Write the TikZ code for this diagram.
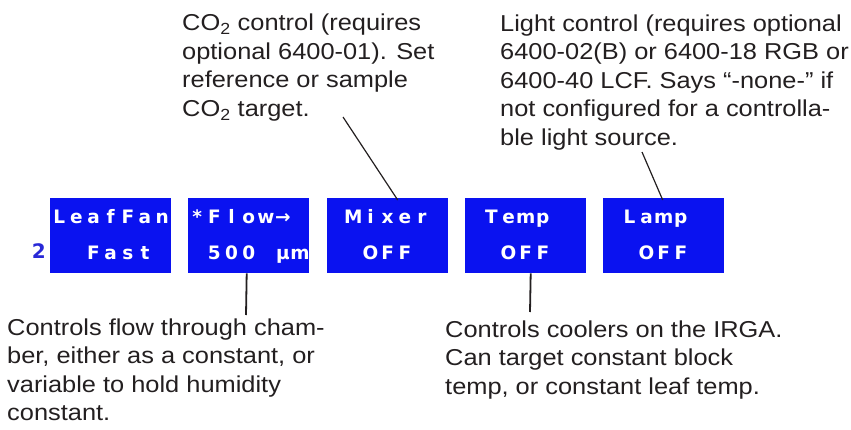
\documentclass[tikz,border=0pt]{standalone}
\usepackage{fontspec}
\setmainfont{Liberation Sans}[FakeStretch=1.104]
\newfontfamily\lcdfont{DejaVu Sans}
\definecolor{lcdblue}{RGB}{10,18,240}
\definecolor{labelblue}{RGB}{40,40,215}
\definecolor{inkgray}{RGB}{35,31,32}
\newcommand\lcdcell[1]{\makebox[17.143pt][c]{#1}}
\makeatletter
\def\lcdrow#1{\lcd@loop#1\relax}
\def\lcd@loop#1{\ifx#1\relax\else\lcdcell{#1}\expandafter\lcd@loop\fi}
\makeatother
\tikzset{
  lcdbox/.style={fill=lcdblue, text=white, anchor=north west, inner sep=0pt,
    minimum width=121pt, text height=61pt, text depth=14pt, align=left,
    font=\lcdfont\bfseries\fontsize{18.5}{36}\selectfont},
  rowlabel/.style={text=labelblue, inner sep=0pt, font=\lcdfont\bfseries\fontsize{20}{22}\selectfont},
  note/.style={anchor=base west, inner sep=0pt, align=left, text=inkgray,
    font=\fontsize{23}{28.5}\selectfont},
  leader/.style={draw=inkgray, line width=1.2pt},
  stem/.style={draw=inkgray, line width=1.8pt},
}
\begin{document}
\begin{tikzpicture}[x=1pt,y=-1pt]
\useasboundingbox (0,0) rectangle (851,430);
\node[lcdbox] (fan)   at (50,198)  {\lcdrow{LeafFan}\\\lcdrow{~~Fast~}};
\node[lcdbox] (flow)  at (188,198) {\lcdrow{*Flow→~}\\\lcdrow{~500~µm}};
\node[lcdbox] (mixer) at (327,198) {\lcdrow{~Mixer~}\\\lcdrow{~~OFF~~}};
\node[lcdbox] (temp)  at (465,198) {\lcdrow{~Temp~~}\\\lcdrow{~~OFF~~}};
\node[lcdbox] (lamp)  at (603,198) {\lcdrow{~Lamp~~}\\\lcdrow{~~OFF~~}};
\node[rowlabel, anchor=base east] (row) at (46,259) {2};

% base anchor = baseline of the last line
\node[note] (co2note) at (182,116.5) {CO\textsubscript{2} control (requires\\optional 6400-01). Set\\reference or sample\\CO\textsubscript{2} target.};
\node[note] (lightnote) at (500,145.5) {Light control (requires optional\\6400-02(B) or 6400-18 RGB or\\6400-40 LCF. Says “-none-” if\\not configured for a controlla-\\ble light source.};
\node[note] (flownote) at (7,420.5) {Controls flow through cham-\\ber, either as a constant, or\\variable to hold humidity\\constant.};
\node[note] (tempnote) at (445,394) {Controls coolers on the IRGA.\\Can target constant block\\temp, or constant leaf temp.};

\coordinate (co2tip) at (343,117);
\coordinate (lamptip) at (642,152);
\coordinate (flowtip) at (246,315);
\coordinate (temptip) at (530,312);
\draw[leader] ([xshift=10pt,yshift=-2pt]mixer.north) -- (co2tip);
\draw[leader] ([xshift=-1pt,yshift=-2pt]lamp.north) -- (lamptip);
\draw[stem] ([xshift=-2pt]flow.south) -- (flowtip);
\draw[stem] ([xshift=5pt]temp.south) -- (temptip);
\end{tikzpicture}
\end{document}
